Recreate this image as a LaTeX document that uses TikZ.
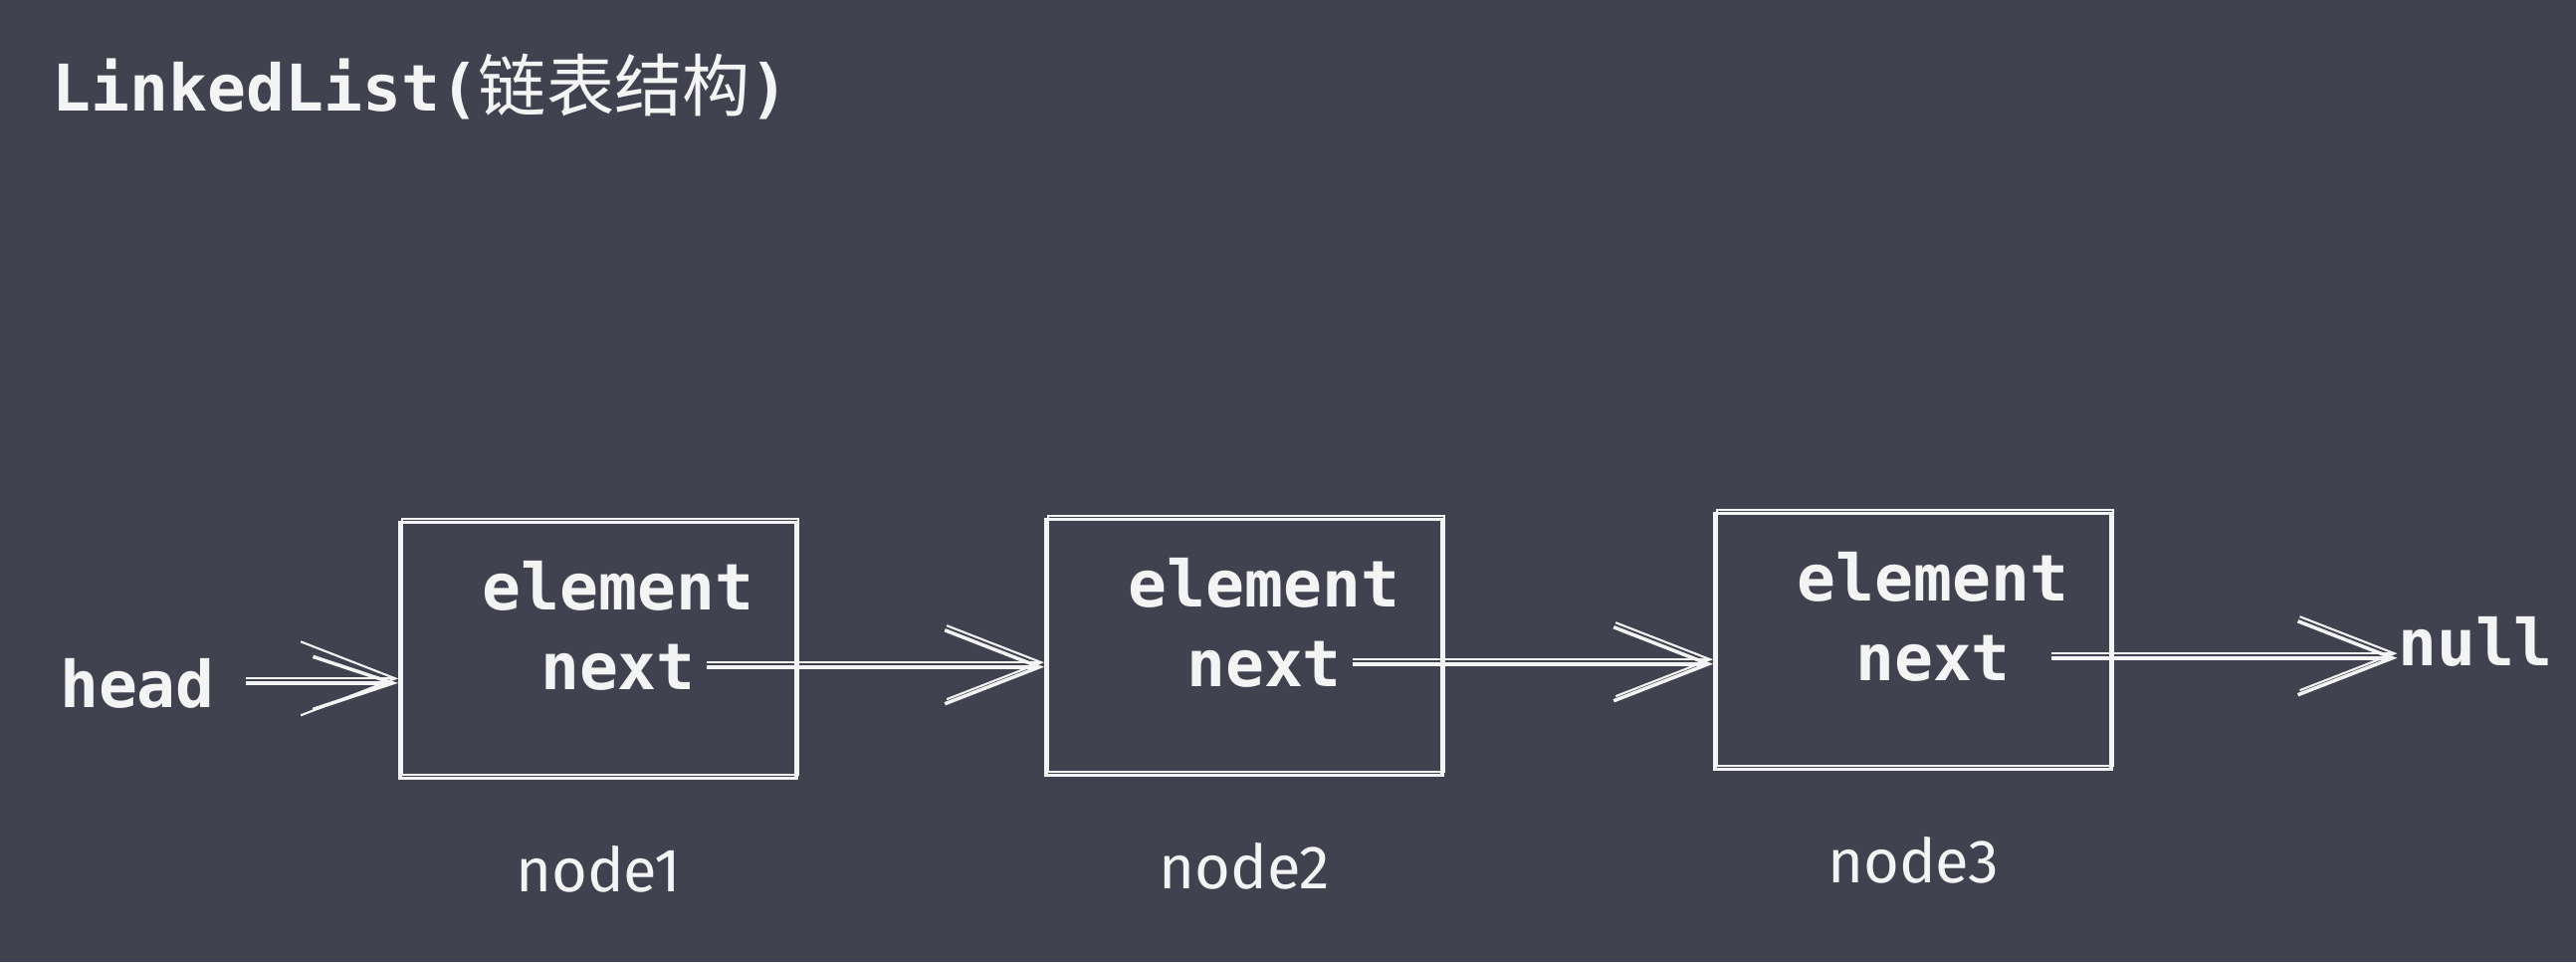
\documentclass[tikz,border=0pt]{standalone}
\usepackage{fontspec}
\setmonofont{DejaVu Sans Mono}
\newfontfamily\cjkfont{Noto Sans CJK SC}
\newfontfamily\handfont{Fira Sans}
\usetikzlibrary{arrows.meta}
\definecolor{slate}{HTML}{40424F}
\definecolor{chalk}{HTML}{F4F4F4}

\begin{document}
\begin{tikzpicture}[
        every node/.style={text=chalk, inner sep=0pt},
        sketch/.style={draw=chalk, line width=1.1pt, preaction={draw=chalk, line width=0.6pt, transform canvas={shift={(0.6pt,0.9pt)}}}},
        box/.style={sketch, minimum width=3.98cm, minimum height=2.57cm},
        field/.style={font=\ttfamily\bfseries\fontsize{18.4}{22}\selectfont},
        tag/.style={font=\handfont\fontsize{17.5}{20}\selectfont},
        link/.style={draw=chalk, line width=1pt, -{Straight Barb[length=9.5mm, width=7.4mm]},
            preaction={draw=chalk, line width=0.6pt, -{Straight Barb[length=9.5mm, width=7.4mm]}, transform canvas={shift={(0pt,1.3pt)}}}}
    ]
    \fill[slate] (0,0) rectangle (25.88,9.66);
    \useasboundingbox (0,0) rectangle (25.88,9.66);

    \node[field, anchor=base west] (title) at (0.52,8.54) {LinkedList({\cjkfont\mdseries\fontsize{19.4}{22}\selectfont 链表结构})};

    \foreach \i/\x/\y in {1/6.01/3.13, 2/12.50/3.16, 3/19.22/3.22} {
        \node[box] (box\i) at (\x,\y) {};
        \node[field, anchor=base] (elem\i) at ([shift={(0.2,0.41)}]box\i.center) {element};
        \node[field, anchor=base] (next\i) at ([shift={(0.2,-0.39)}]box\i.center) {next};
        \node[tag] (tag\i) at ([yshift=-2.2cm]box\i.center) {node\i};
    }

    \node[field, anchor=base] (head) at (1.38,2.56) {head};
    \node[field, anchor=base] (null) at (24.87,2.98) {null};

    \draw[link, -{Straight Barb[length=8mm, width=5.3mm]}, shorten <=3mm] (head.east) -- (head.east -| box1.west);
    \draw[link, shorten <=1mm] (next1.east) -- (next1.east -| box2.west);
    \draw[link, shorten <=1mm] (next2.east) -- (next2.east -| box3.west);
    \draw[link, shorten <=4mm] (next3.east) -- (next3.east -| null.west);
\end{tikzpicture}
\end{document}
